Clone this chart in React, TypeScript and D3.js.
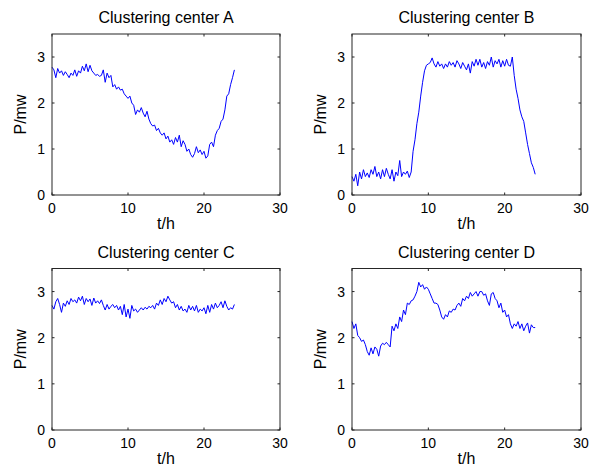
import React from "react";
import * as d3 from "d3";

const titles = ["Clustering center A", "Clustering center B", "Clustering center C", "Clustering center D"];
const xTicks = [0, 10, 20, 30];
const yTicks = [0, 1, 2, 3];
const step = 0.25;

const seriesA = [
  2.78, 2.72, 2.55, 2.75, 2.65, 2.7, 2.6, 2.68, 2.62, 2.55, 2.65, 2.6, 2.72, 2.58, 2.7, 2.65,
  2.8, 2.7, 2.85, 2.68, 2.82, 2.7, 2.65, 2.6, 2.62, 2.58, 2.6, 2.72, 2.45, 2.65, 2.55, 2.6,
  2.35, 2.4, 2.3, 2.35, 2.28, 2.3, 2.2, 2.15, 2.1, 2.15, 2.0, 1.95, 1.75, 1.85, 1.8, 1.9,
  1.78, 1.7, 1.82, 1.65, 1.55, 1.5, 1.52, 1.4, 1.45, 1.35, 1.3, 1.35, 1.22, 1.28, 1.15, 1.2,
  1.1, 1.25, 1.15, 1.3, 1.05, 1.18, 1.1, 0.95, 1.0, 0.88, 0.82, 0.9, 1.05, 0.92, 0.98, 0.88,
  0.95, 0.8, 0.85, 1.1, 1.15, 1.05, 1.3, 1.4, 1.45, 1.6, 1.65, 1.85, 2.15, 2.2, 2.4, 2.55, 2.72,
];
const seriesB = [
  0.4, 0.3, 0.45, 0.2, 0.5, 0.35, 0.55, 0.4, 0.48, 0.38, 0.55, 0.45, 0.62, 0.4, 0.5, 0.35,
  0.55, 0.4, 0.58, 0.45, 0.35, 0.55, 0.3, 0.5, 0.42, 0.75, 0.4, 0.5, 0.45, 0.52, 0.38, 0.5,
  0.95, 1.2, 1.55, 1.8, 2.15, 2.45, 2.7, 2.82, 2.85, 2.88, 2.98, 2.85, 2.78, 2.9, 2.8, 2.85,
  2.75, 2.85, 2.78, 2.9, 2.82, 2.88, 2.78, 2.92, 2.85, 2.75, 2.88, 2.8, 2.72, 2.85, 2.65, 2.9,
  2.8, 2.95, 2.82, 2.95, 2.78, 2.88, 2.75, 2.9, 2.82, 3.0, 2.78, 2.92, 2.85, 2.95, 2.78, 2.92,
  2.8, 2.95, 2.82, 2.8, 3.0, 2.6, 2.3, 2.1, 1.85, 1.7, 1.6, 1.35, 1.1, 0.9, 0.7, 0.6, 0.45,
];
const seriesC = [
  2.7, 2.62, 2.78, 2.85, 2.72, 2.55, 2.75, 2.68, 2.8, 2.72, 2.85, 2.78, 2.82, 2.75, 2.88, 2.8,
  2.9, 2.72, 2.85, 2.78, 2.84, 2.7, 2.86, 2.75, 2.8, 2.74, 2.82, 2.7, 2.6, 2.72, 2.62, 2.68,
  2.72, 2.65, 2.7, 2.6, 2.68, 2.5, 2.72, 2.45, 2.62, 2.42, 2.7, 2.58, 2.62, 2.55, 2.6, 2.65,
  2.6, 2.66, 2.62, 2.68, 2.65, 2.7, 2.62, 2.75, 2.7, 2.82, 2.72, 2.85, 2.78, 2.9, 2.82, 2.75,
  2.78, 2.65, 2.72, 2.6, 2.68, 2.58, 2.62, 2.55, 2.7, 2.6, 2.68, 2.58, 2.7, 2.55, 2.62, 2.58,
  2.65, 2.52, 2.7, 2.55, 2.72, 2.62, 2.75, 2.65, 2.7, 2.78, 2.65, 2.8, 2.68, 2.6, 2.65, 2.62, 2.72,
];
const seriesD = [
  2.35, 2.2, 2.3, 2.05, 2.0, 1.92, 1.95, 1.85, 1.7, 1.62, 1.78, 1.65, 1.8, 1.75, 1.6, 1.82,
  1.88, 1.85, 1.9, 1.85, 1.8, 2.25, 2.15, 2.3, 2.2, 2.45, 2.35, 2.6, 2.5, 2.75, 2.72, 2.8,
  2.82, 2.9, 3.0, 3.2, 3.1, 3.15, 3.05, 3.1, 3.05, 2.95, 2.85, 2.75, 2.75, 2.72, 2.6, 2.45,
  2.4, 2.5, 2.45, 2.58, 2.55, 2.62, 2.6, 2.7, 2.75, 2.68, 2.85, 2.8, 2.9, 2.85, 2.98, 2.9,
  2.95, 3.0, 2.9, 3.0, 3.0, 2.92, 2.95, 2.8, 2.7, 2.95, 2.98, 2.85, 2.8, 2.65, 2.75, 2.55,
  2.6, 2.45, 2.5, 2.3, 2.2, 2.3, 2.25, 2.35, 2.2, 2.3, 2.15, 2.25, 2.32, 2.1, 2.28, 2.22, 2.22,
];
const allSeries = [seriesA, seriesB, seriesC, seriesD];

const panels = [
  { left: 52, right: 280, top: 34, bottom: 195 },
  { left: 352, right: 581, top: 34, bottom: 195 },
  { left: 52, right: 280, top: 268.5, bottom: 430 },
  { left: 352, right: 581, top: 268.5, bottom: 430 },
];

const font = "Arial, 'Liberation Sans', Helvetica, sans-serif";

function Panel({ idx }: { idx: number }) {
  const p = panels[idx];
  const data = allSeries[idx];
  const x = d3.scaleLinear().domain([0, 30]).range([p.left, p.right]);
  const y = d3.scaleLinear().domain([0, 3.5]).range([p.bottom, p.top]);
  const line = d3
    .line<number>()
    .x((_, i) => x(i * step))
    .y((d) => y(d));
  const tl = 2.5;
  const cx = (p.left + p.right) / 2;
  const cy = (p.top + p.bottom) / 2;
  return (
    <g>
      <rect x={p.left} y={p.top} width={p.right - p.left} height={p.bottom - p.top} fill="#fff" stroke="none" />
      <path d={line(data) || ""} fill="none" stroke="#0000ff" strokeWidth={1} />
      <rect x={p.left} y={p.top} width={p.right - p.left} height={p.bottom - p.top} fill="none" stroke="#262626" strokeWidth={1} />
      {xTicks.map((t) => (
        <g key={"x" + t}>
          <line x1={x(t)} x2={x(t)} y1={p.bottom} y2={p.bottom - tl} stroke="#262626" />
          <line x1={x(t)} x2={x(t)} y1={p.top} y2={p.top + tl} stroke="#262626" />
          <text x={x(t)} y={p.bottom + 18} textAnchor="middle" fontSize={14} fontFamily={font} fill="#000">
            {t}
          </text>
        </g>
      ))}
      {yTicks.map((t) => (
        <g key={"y" + t}>
          <line x1={p.left} x2={p.left + tl} y1={y(t)} y2={y(t)} stroke="#262626" />
          <line x1={p.right} x2={p.right - tl} y1={y(t)} y2={y(t)} stroke="#262626" />
          <text x={p.left - 7} y={y(t) + 5} textAnchor="end" fontSize={14} fontFamily={font} fill="#000">
            {t}
          </text>
        </g>
      ))}
      <text x={cx} y={p.top - 11} textAnchor="middle" fontSize={16} fontFamily={font} fill="#000">
        {titles[idx]}
      </text>
      <text x={cx} y={p.bottom + 34} textAnchor="middle" fontSize={16} fontFamily={font} fill="#000">
        t/h
      </text>
      <text
        transform={`translate(${p.left - 26},${cy}) rotate(-90)`}
        textAnchor="middle"
        fontSize={16}
        fontFamily={font}
        fill="#000"
      >
        P/mw
      </text>
    </g>
  );
}

export default function App() {
  return (
    <svg
      width={589}
      height={473}
      style={{ position: "absolute", left: 0, top: 0, background: "#fff" }}
    >
      <rect x={0} y={0} width={589} height={473} fill="#fff" />
      {panels.map((_, i) => (
        <Panel key={i} idx={i} />
      ))}
    </svg>
  );
}
